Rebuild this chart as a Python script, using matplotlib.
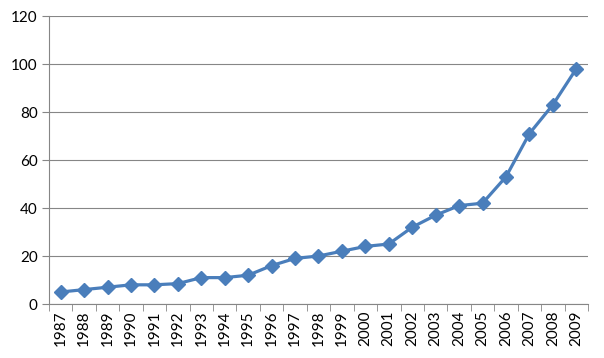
import numpy as np
import matplotlib.pyplot as plt
from matplotlib.ticker import FixedLocator

years = [str(y) for y in range(1987, 2010)]
values = [5, 6, 7, 8, 8, 8.5, 11, 11, 12, 16, 19, 20, 22, 24, 25,
          32, 37, 41, 42, 53, 71, 83, 98]

plt.rcParams['font.family'] = ['Lato', 'DejaVu Sans']

fig = plt.figure(figsize=(6.04, 3.58), dpi=100)
ax = fig.add_axes([0.0811, 0.1508, 0.8924, 0.8045])

x = np.arange(len(years))
ax.plot(x, values, color='#4A7EBB', lw=2.3, marker='D', ms=7.5,
        markeredgecolor='#4A7EBB', solid_joinstyle='round')

ax.set_ylim(0, 120)
ax.set_yticks(range(0, 121, 20))
ax.set_xlim(-0.5, len(years) - 0.5)
ax.set_xticks(x)
ax.set_xticklabels(years, rotation=90)
ax.xaxis.set_minor_locator(FixedLocator(np.arange(-0.5, len(years), 1)))

ax.grid(axis='y', color='#868686', lw=0.8)
ax.set_axisbelow(True)
for s in ['top', 'right']:
    ax.spines[s].set_visible(False)
for s in ['left', 'bottom']:
    ax.spines[s].set_color('#868686')
    ax.spines[s].set_linewidth(0.8)

ax.tick_params(axis='y', length=5, color='#868686', labelsize=11, pad=3)
ax.tick_params(axis='x', which='major', length=0, labelsize=11, pad=5)
ax.tick_params(axis='x', which='minor', length=5, color='#868686')

fig.savefig('out.png', dpi=100)
